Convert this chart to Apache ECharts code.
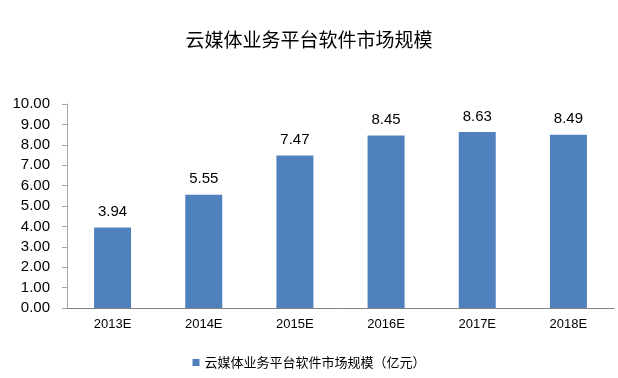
<!DOCTYPE html>
<html>
<head>
<meta charset="utf-8">
<script src="https://cdn.jsdelivr.net/npm/echarts@6/dist/echarts.min.js"></script>
<style>
  html, body { margin: 0; padding: 0; background: #fff; }
  #main { width: 618px; height: 378px; }
</style>
</head>
<body>
<div id="main"></div>
<script>
var years = ['2013E', '2014E', '2015E', '2016E', '2017E', '2018E']
var scale = [3.94, 5.55, 7.47, 8.45, 8.63, 8.49]
var seriesName = '云媒体业务平台软件市场规模（亿元）'

var chart = echarts.init(document.getElementById('main'))
var font = '"Noto Sans CJK SC", "DejaVu Sans", sans-serif'
chart.setOption({
  backgroundColor: '#fff',
  title: {
    text: '云媒体业务平台软件市场规模',
    left: 'center',
    top: 25,
    textStyle: { fontFamily: font, fontWeight: 'normal', fontSize: 19, color: '#000' }
  },
  legend: {
    bottom: 4,
    left: 'center',
    itemWidth: 7,
    itemHeight: 7,
    icon: 'rect',
    textStyle: { fontFamily: font, fontSize: 13, color: '#000' },
    data: [seriesName]
  },
  grid: { left: 67, right: 4, top: 104, bottom: 70 },
  xAxis: {
    type: 'category',
    data: years,
    axisTick: { show: false },
    axisLine: { lineStyle: { color: '#808080' } },
    axisLabel: { color: '#000', fontSize: 13, fontFamily: 'Liberation Sans, Arial', margin: 10 }
  },
  yAxis: {
    type: 'value',
    min: 0,
    max: 10,
    interval: 1,
    splitLine: { show: false },
    axisLine: { show: true, lineStyle: { color: '#a6a6a6' } },
    axisTick: { show: true, inside: false, length: 5, lineStyle: { color: '#a6a6a6' } },
    axisLabel: {
      color: '#000', fontSize: 15, fontFamily: 'Liberation Sans, Arial', margin: 17,
      formatter: function (v) { return v.toFixed(2) }
    }
  },
  series: [{
    name: seriesName,
    type: 'bar',
    data: scale,
    barWidth: 37,
    itemStyle: { color: '#4f81bd' },
    label: {
      show: true,
      position: 'top',
      distance: 8,
      color: '#000',
      fontSize: 15,
      fontFamily: 'Liberation Sans, Arial',
      formatter: function (p) { return p.value.toFixed(2) }
    }
  }]
})
</script>
</body>
</html>
